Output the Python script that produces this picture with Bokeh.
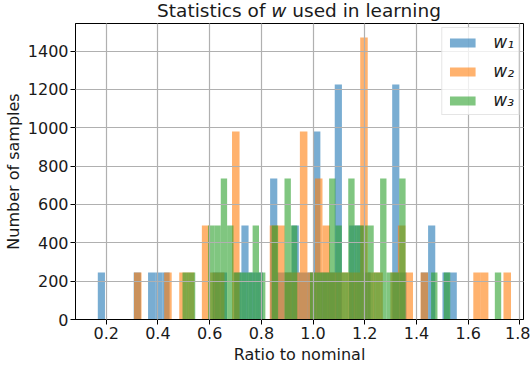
import numpy as np
from bokeh.plotting import figure
from bokeh.layouts import column
from bokeh.models import Range1d, FixedTicker, Legend, LegendItem, ColumnDataSource, Div
from bokeh.embed import file_html
from bokeh.resources import INLINE

# ---------------- data ----------------
x_ticks = [0.2, 0.4, 0.6, 0.8, 1.0, 1.2, 1.4, 1.6, 1.8]
x_tick_labels = ["0.2", "0.4", "0.6", "0.8", "1.0", "1.2", "1.4", "1.6", "1.8"]
y_ticks = [0, 200, 400, 600, 800, 1000, 1200, 1400]
y_tick_labels = ["0", "200", "400", "600", "800", "1000", "1200", "1400"]

series_names = ["w\u2081", "w\u2082", "w\u2083"]
series_colors = ["#1f77b4", "#ff7f0e", "#2ca02c"]

# histogram ranges (min, max of the samples) and counts of the 50 bins
w1_range = (0.1675, 1.5558)
w1_counts = [245, 0, 0, 0, 0, 245, 0, 245, 245, 245,
             0, 0, 0, 0, 0, 0, 245, 245, 0, 245,
             490, 245, 245, 0, 735, 245, 245, 490, 245, 245,
             980, 245, 245, 1225, 0, 490, 490, 245, 0, 0,
             0, 1225, 245, 0, 0, 245, 490, 0, 245, 245]

w2_range = (0.3075, 1.7654)
w2_counts = [245, 0, 0, 0, 245, 0, 245, 245, 0, 490,
             245, 245, 0, 980, 0, 0, 0, 0, 490, 490,
             245, 245, 980, 245, 735, 490, 245, 245, 245, 245,
             1470, 245, 245, 0, 245, 490, 245, 0, 245, 0,
             0, 0, 0, 0, 0, 245, 245, 0, 0, 245]

w3_range = (0.4951, 1.7275)
w3_counts = [245, 245, 0, 0, 490, 490, 735, 490, 245, 245,
             245, 490, 245, 0, 490, 0, 735, 490, 0, 0,
             245, 245, 245, 735, 490, 245, 735, 490, 490, 490,
             245, 735, 245, 245, 735, 0, 0, 0, 0, 245,
             0, 245, 0, 0, 0, 0, 0, 0, 0, 245]

title_html = "Statistics of <i>w</i> used in learning"
x_label = "Ratio to nominal"
y_label = "Number of samples"

x_lo, x_hi = 0.0813, 1.8137
y_lo, y_hi = 0, 1543.5

FONT = "DejaVu Sans"
TXT = "#1a1a1a"

p = figure(width=530, height=344, output_backend="svg", toolbar_location=None,
           x_range=Range1d(x_lo, x_hi), y_range=Range1d(y_lo, y_hi),
           min_border_left=75, min_border_right=7, min_border_top=1,
           min_border_bottom=47, background_fill_color="white",
           border_fill_color="white")

# ---------------- bars ----------------
renderers = []
for rng, counts, color in [(w1_range, w1_counts, series_colors[0]),
                           (w2_range, w2_counts, series_colors[1]),
                           (w3_range, w3_counts, series_colors[2])]:
    cnt = np.asarray(counts, dtype=float)
    edges = np.linspace(rng[0], rng[1], len(cnt) + 1)
    m = cnt > 0
    src = ColumnDataSource(dict(left=edges[:-1][m], right=edges[1:][m], top=cnt[m]))
    r = p.quad(left="left", right="right", bottom=0, top="top", source=src,
               fill_color=color, fill_alpha=0.6, line_color=None)
    renderers.append(r)

# ---------------- axes / grid ----------------
p.xaxis.ticker = FixedTicker(ticks=x_ticks)
p.yaxis.ticker = FixedTicker(ticks=y_ticks)
p.xgrid.ticker = FixedTicker(ticks=x_ticks)
p.ygrid.ticker = FixedTicker(ticks=y_ticks)
p.xaxis.major_label_overrides = {t: s for t, s in zip(x_ticks, x_tick_labels)}
p.yaxis.major_label_overrides = {t: s for t, s in zip(y_ticks, y_tick_labels)}

for ax in (p.xaxis[0], p.yaxis[0]):
    ax.major_label_text_font = FONT
    ax.major_label_text_font_size = "16px"
    ax.major_label_text_color = TXT
    ax.axis_label_text_font = FONT
    ax.axis_label_text_font_size = "16px"
    ax.axis_label_text_font_style = "normal"
    ax.axis_label_text_color = TXT
    ax.major_tick_out = 5
    ax.major_tick_in = 0
    ax.major_tick_line_color = "black"
    ax.minor_tick_line_color = None
    ax.axis_line_color = "black"
    ax.major_label_standoff = 2

p.xaxis.axis_label = x_label
p.yaxis.axis_label = y_label
p.xaxis.axis_label_standoff = 3
p.yaxis.axis_label_standoff = 2

p.grid.grid_line_color = "#b0b0b0"
p.grid.grid_line_width = 1.2
p.xgrid.level = "guide"
p.ygrid.level = "guide"

p.outline_line_color = "black"
p.outline_line_width = 1
p.outline_line_alpha = 1

# ---------------- legend ----------------
legend = Legend(items=[LegendItem(label=n, renderers=[r]) for n, r in zip(series_names, renderers)],
                location="top_right", margin=4, padding=4, spacing=9,
                glyph_width=32, glyph_height=11, label_standoff=15,
                label_text_font=FONT, label_text_font_style="italic",
                label_text_font_size="17px", label_text_color=TXT,
                border_line_color="#cccccc", border_line_width=1,
                background_fill_color="white", background_fill_alpha=0.8)
p.add_layout(legend)

# ---------------- title (HTML, with italic w) ----------------
title = Div(text=title_html, width=448, height=22, margin=(0, 0, 0, 75),
            styles={"font-family": FONT, "font-size": "18.5px", "line-height": "21px",
                    "text-align": "center", "color": TXT, "white-space": "nowrap"})

layout = column(title, p, spacing=0)
open("out.html", "w").write(file_html(layout, INLINE))
